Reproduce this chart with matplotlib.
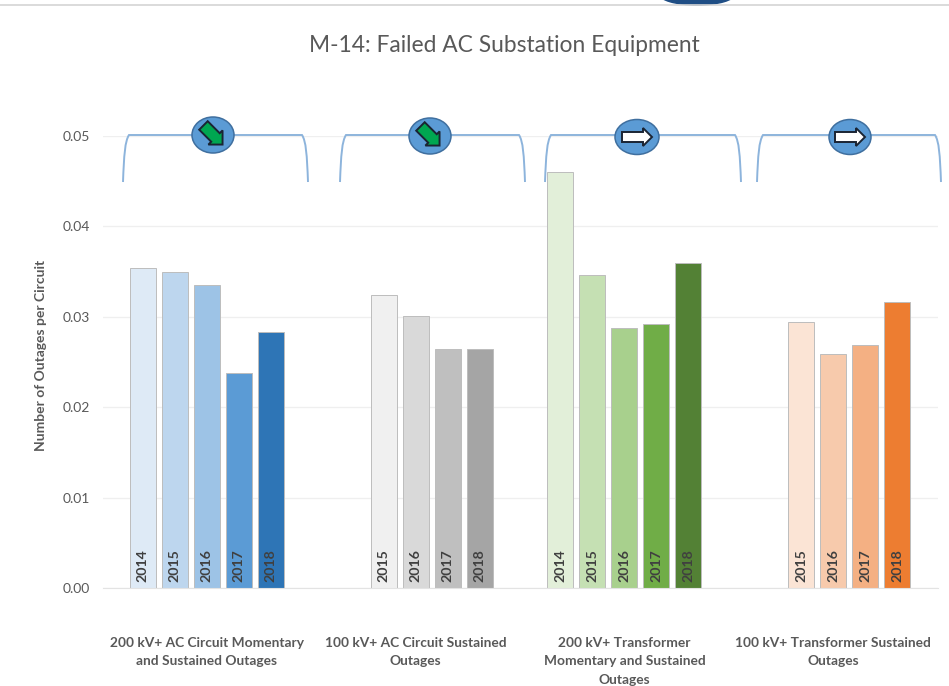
import matplotlib
matplotlib.use("Agg")
import matplotlib.pyplot as plt
import numpy as np
from matplotlib.patches import Ellipse, PathPatch, Polygon
from matplotlib.path import Path

plt.rcParams['font.family'] = ['Lato', 'DejaVu Sans']

categories = [
    "200 kV+ AC Circuit Momentary\nand Sustained Outages",
    "100 kV+ AC Circuit Sustained\nOutages",
    "200 kV+ Transformer\nMomentary and Sustained\nOutages",
    "100 kV+ Transformer Sustained\nOutages",
]
years_5 = [2014, 2015, 2016, 2017, 2018]
years_4 = [2015, 2016, 2017, 2018]

circuit_200 = [0.0354, 0.0350, 0.0335, 0.0238, 0.0283]
circuit_100 = [0.0324, 0.0301, 0.0264, 0.0264]
transformer_200 = [0.0460, 0.0346, 0.0288, 0.0292, 0.0360]
transformer_100 = [0.0294, 0.0259, 0.0269, 0.0316]

blues = ['#DEEAF6', '#BDD6EE', '#9DC3E6', '#5B9BD5', '#2E75B6']
greys = ['#F0F0F0', '#D9D9D9', '#BFBFBF', '#A5A5A5']
greens = ['#E2EFD9', '#C5E0B3', '#A8D08D', '#70AD47', '#538135']
oranges = ['#FBE4D5', '#F7CAAC', '#F4B083', '#ED7D31']

groups = [
    (years_5, circuit_200, blues),
    (years_4, circuit_100, greys),
    (years_5, transformer_200, greens),
    (years_4, transformer_100, oranges),
]

W, H = 949, 686
fig = plt.figure(figsize=(W / 100, H / 100), dpi=100)
ax = fig.add_axes([102.5 / W, 1 - 588 / H, 835 / W, 452 / H])

# bars, one category holds 6.5 bar slots
slot = 0.1533
for i, (years, values, colors) in enumerate(groups):
    for year, val, col in zip(years, values, colors):
        x = i + (year - 2016) * slot
        ax.bar(x, val, width=0.125, color=col, edgecolor='#BDBDBD', linewidth=0.7, zorder=2)
        ax.text(x, 0.0007, str(year), rotation=90, ha='center', va='bottom',
                fontsize=10.2, fontweight='bold', color='#404040', zorder=3)

ax.set_xlim(-0.5, 3.5)
ax.set_ylim(0, 0.05)
ax.set_yticks([0, 0.01, 0.02, 0.03, 0.04, 0.05])
ax.set_yticklabels(['0.00', '0.01', '0.02', '0.03', '0.04', '0.05'], fontsize=10, color='#595959')
ax.set_xticks(range(4))
ax.set_xticklabels(categories, fontsize=9.9, fontweight='bold', color='#595959', linespacing=1.68)
ax.tick_params(axis='both', length=0)
ax.tick_params(axis='x', pad=35)
ax.tick_params(axis='y', pad=9)
ax.grid(axis='y', color='#EFEFEF', linewidth=0.9, zorder=0)
ax.set_axisbelow(True)
for s in ax.spines.values():
    s.set_visible(False)
ax.spines['bottom'].set_visible(True)
ax.spines['bottom'].set_color('#E3E3E3')

fig.text(41 / W, 1 - 355 / H, "Number of Outages per Circuit", rotation=90, ha='center', va='center',
         fontsize=10, fontweight='bold', color='#595959')
fig.text(504.5 / W, 1 - 45 / H, "M-14: Failed AC Substation Equipment", ha='center', va='center',
         fontsize=16.4, color='#595959')

# overlay in pixel coordinates for the brackets and trend arrows
over = fig.add_axes([0, 0, 1, 1], facecolor='none')
over.set_xlim(0, W)
over.set_ylim(H, 0)
over.axis('off')

over.add_patch(Ellipse((697, -6), 76, 22, color='#1F4E85'))
over.plot([0, W], [5, 5], color='#D4D4D4', linewidth=1.2)


def bracket(x0, x1, top=135, bottom=182):
    verts = [(x0, bottom), (x0 + 1, top + 20), (x0 + 2, top + 6), (x0 + 6, top), (x1 - 6, top),
             (x1 - 2, top + 6), (x1 - 1, top + 20), (x1, bottom)]
    codes = [Path.MOVETO, Path.CURVE4, Path.CURVE4, Path.CURVE4, Path.LINETO,
             Path.CURVE4, Path.CURVE4, Path.CURVE4]
    over.add_patch(PathPatch(Path(verts, codes), fill=False, edgecolor='#8DB4DC', linewidth=1.4))


def trend_arrow(cx, cy, angle, color, length=30, thick=12, head=21, ew=1.4):
    # arrow outline pointing right, then rotated about its centre
    L = length / 2
    neck = L - head * 0.5
    pts = np.array([(-L, -thick / 2), (neck, -thick / 2), (neck, -head / 2), (L, 0),
                    (neck, head / 2), (neck, thick / 2), (-L, thick / 2)])
    a = np.radians(angle)
    rot = np.array([[np.cos(a), -np.sin(a)], [np.sin(a), np.cos(a)]])
    over.add_patch(Polygon(pts @ rot.T + [cx, cy], closed=True, facecolor=color,
                           edgecolor='#1A2433', linewidth=ew, zorder=6))


brackets = [(123, 308), (340, 525), (545, 741), (757, 941)]
badges = [(213, 135, 42, 36, 45, '#00A651'), (430, 136, 42, 36, 45, '#00A651'),
          (637, 137, 44, 35, 0, 'white'), (850, 137, 42, 35, 0, 'white')]
for (x0, x1) in brackets:
    bracket(x0, x1)
for cx, cy, w, h, ang, col in badges:
    over.add_patch(Ellipse((cx, cy), w, h, facecolor='#5B9BD5', edgecolor='#3F6F9F', linewidth=1.1, zorder=5))
    if ang:
        trend_arrow(cx, cy, ang, col, length=27, thick=12, head=20)
    else:
        trend_arrow(cx, cy, ang, col, length=30, thick=10, head=18)

fig.savefig("out.png", dpi=100, facecolor='white')
